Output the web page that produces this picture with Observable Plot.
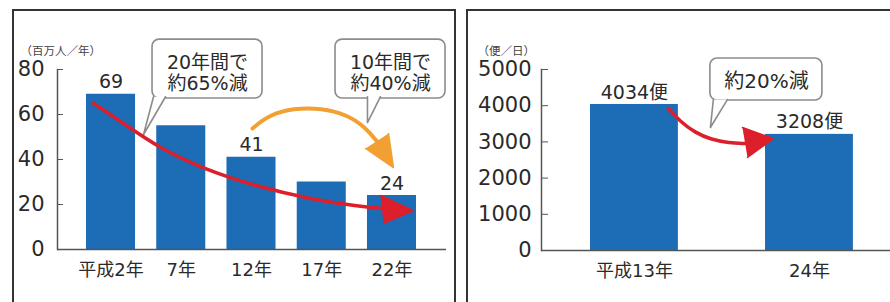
<!DOCTYPE html>
<html><head><meta charset="utf-8">
<script src="https://cdn.jsdelivr.net/npm/d3@7"></script>
<script src="https://cdn.jsdelivr.net/npm/@observablehq/plot@0.6"></script>
<style>
body{margin:0;background:#fff;}
#wrap{position:relative;width:890px;height:302px;overflow:hidden;background:#fff;}
.panel{position:absolute;top:0;}
.panel svg{max-width:none;}
.frame{position:absolute;border:2px solid #333;border-bottom:none;box-sizing:content-box;}
</style></head><body>
<div id="wrap">
  <div id="left" class="panel" style="left:0;width:460px;height:302px"></div>
  <div id="right" class="panel" style="left:460px;width:430px;height:302px"></div>
  <div class="frame" style="left:12px;top:9px;width:440px;height:300px"></div>
  <div class="frame" style="left:466px;top:9px;width:440px;height:300px"></div>
</div>
<script>
// ---- Left chart data ----
const yearsA = ["平成2年", "7年", "12年", "17年", "22年"];
const passengers = [69, 55, 41, 30, 24];
const passengerLabels = ["69", null, "41", null, "24"];
const yTicksA = [0, 20, 40, 60, 80];
const unitA = "（百万人／年）";
const calloutTextA = ["20年間で\n約65%減", "10年間で\n約40%減"];

// ---- Right chart data ----
const yearsB = ["平成13年", "24年"];
const flights = [4034, 3208];
const flightLabels = ["4034便", "3208便"];
const yTicksB = [0, 1000, 2000, 3000, 4000, 5000];
const unitB = "（便／日）";
const calloutTextB = ["約20%減"];

// ---- Annotation geometry (data units: x = bar index, y = value) ----
const calloutBoxesA = [
  {x1: 0.591, x2: 2.157, y1: 67.1, y2: 93.3, tx: 1.374, ty: 78.7},
  {x1: 3.196, x2: 4.762, y1: 67.1, y2: 93.3, tx: 3.979, ty: 78.7}
];
const calloutTailsA = [
  [[0.605, 67.9], [0.463, 51.1], [0.776, 67.9]],
  [[3.651, 67.9], [3.651, 56.4], [3.836, 67.9]]
];
const redPathA = [[-0.249, 64.9], [0.20, 55.6], [0.66, 45.6], [1.30, 36.0], [2.05, 28.2], [2.90, 22.0], [3.50, 19.3], [3.907, 18.2]];
const redHeadA = [[3.836, 24.0], [4.306, 17.3], [3.879, 11.6]];
const orangePathA = [[2.014, 53.8], [2.25, 59.8], [2.60, 62.8], [3.00, 62.8], [3.35, 60.0], [3.62, 54.5], [3.80, 47.5]];
const orangeHeadA = [[3.623, 44.9], [4.021, 36.4], [3.950, 51.6]];

const calloutBoxesB = [{x1: 0.434, x2: 1.074, y1: 4143, y2: 5303, tx: 0.754, ty: 4695}];
const calloutTailsB = [[[0.451, 4170], [0.434, 3397], [0.531, 4170]]];
const redPathB = [[0.194, 3922], [0.262, 3560], [0.345, 3260], [0.440, 3060], [0.540, 2975], [0.634, 2955]];
const redHeadB = [[0.617, 3397], [0.794, 3093], [0.646, 2569]];

const blue = "#1c6db6";
const red = "#dc1f2a";
const orange = "#f2a032";
const axisColor = "#555";
const textColor = "#2a2a2a";
const fontFamily = "'DejaVu Sans','Noto Sans CJK JP',sans-serif";

const dataA = yearsA.map((c, i) => ({i, cat: c, value: passengers[i], label: passengerLabels[i]}));
const dataB = yearsB.map((c, i) => ({i, cat: c, value: flights[i], label: flightLabels[i]}));

function calloutMarks(boxes, tails, texts, fontSize) {
  return [
    Plot.rect(boxes, {x1: "x1", x2: "x2", y1: "y1", y2: "y2", fill: "white", stroke: "#8c8c8c", strokeWidth: 1.6, rx: 7}),
    ...tails.map(t => Plot.line(t, {x: d => d[0], y: d => d[1], fill: "white", stroke: "#8c8c8c", strokeWidth: 1.6, strokeLinejoin: "round"})),
    Plot.text(boxes.map((b, k) => ({...b, text: texts[k]})), {x: "tx", y: "ty", text: "text", fontSize, lineHeight: 1.12, fill: textColor})
  ];
}
function arrowMarks(path, head, color, width) {
  return [
    Plot.line(path, {x: d => d[0], y: d => d[1], stroke: color, strokeWidth: width, curve: "basis", strokeLinecap: "round"}),
    Plot.line(head, {x: d => d[0], y: d => d[1], fill: color, stroke: color, strokeWidth: 1.5, strokeLinejoin: "round"})
  ];
}

const left = Plot.plot({
  width: 460, height: 302,
  marginLeft: 57, marginRight: 14, marginTop: 69, marginBottom: 53,
  style: {fontFamily, color: textColor, background: "transparent", overflow: "visible"},
  x: {domain: [-0.762, 4.776], axis: null},
  y: {domain: [0, 80], axis: null},
  marks: [
    Plot.rectY(dataA, {x1: d => d.i - 0.349, x2: d => d.i + 0.349, y: "value", fill: blue}),
    Plot.frame({anchor: "left", stroke: axisColor, strokeWidth: 1.5}),
    Plot.ruleY([0], {stroke: axisColor, strokeWidth: 1.5}),
    Plot.axisY({ticks: yTicksA, tickFormat: d => String(d), tickSize: 6, dx: 6, tickPadding: 13, fontSize: 21, label: null, stroke: axisColor, fill: textColor}),
    Plot.axisX({ticks: yearsA.map((_, i) => i), tickFormat: i => yearsA[i], tickSize: 0, tickPadding: 14, fontSize: 18, label: null, fill: textColor}),
    Plot.text(dataA.filter(d => d.label), {x: "i", y: "value", text: "label", dy: -12, fontSize: 19, fill: textColor}),
    Plot.text([unitA], {frameAnchor: "top-left", dx: -37, dy: -23, textAnchor: "start", fontSize: 11.5, fill: "#444"}),
    ...calloutMarks(calloutBoxesA, calloutTailsA, calloutTextA, 19),
    ...arrowMarks(redPathA, redHeadA, red, 3.5),
    ...arrowMarks(orangePathA, orangeHeadA, orange, 4)
  ]
});
document.getElementById("left").append(left);

const right = Plot.plot({
  width: 430, height: 302,
  marginLeft: 81, marginRight: 0, marginTop: 69, marginBottom: 52,
  style: {fontFamily, color: textColor, background: "transparent", overflow: "visible"},
  x: {domain: [-0.531, 1.463], axis: null},
  y: {domain: [0, 5000], axis: null},
  marks: [
    Plot.rectY(dataB, {x1: d => d.i - 0.251, x2: d => d.i + 0.251, y: "value", fill: blue}),
    Plot.frame({anchor: "left", stroke: axisColor, strokeWidth: 1.5}),
    Plot.ruleY([0], {stroke: axisColor, strokeWidth: 1.5}),
    Plot.axisY({ticks: yTicksB, tickFormat: d => String(d), tickSize: 7, dx: 7, tickPadding: 10, fontSize: 21, label: null, stroke: axisColor, fill: textColor}),
    Plot.axisX({ticks: yearsB.map((_, i) => i), tickFormat: i => yearsB[i], tickSize: 0, tickPadding: 14, fontSize: 18, label: null, fill: textColor}),
    Plot.text(dataB, {x: "i", y: "value", text: "label", dy: -12, fontSize: 19, fill: textColor}),
    Plot.text([unitB], {frameAnchor: "top-left", dx: -64, dy: -23, textAnchor: "start", fontSize: 11.5, fill: "#444"}),
    ...calloutMarks(calloutBoxesB, calloutTailsB, calloutTextB, 20),
    ...arrowMarks(redPathB, redHeadB, red, 3.5)
  ]
});
document.getElementById("right").append(right);
</script>
</body></html>
